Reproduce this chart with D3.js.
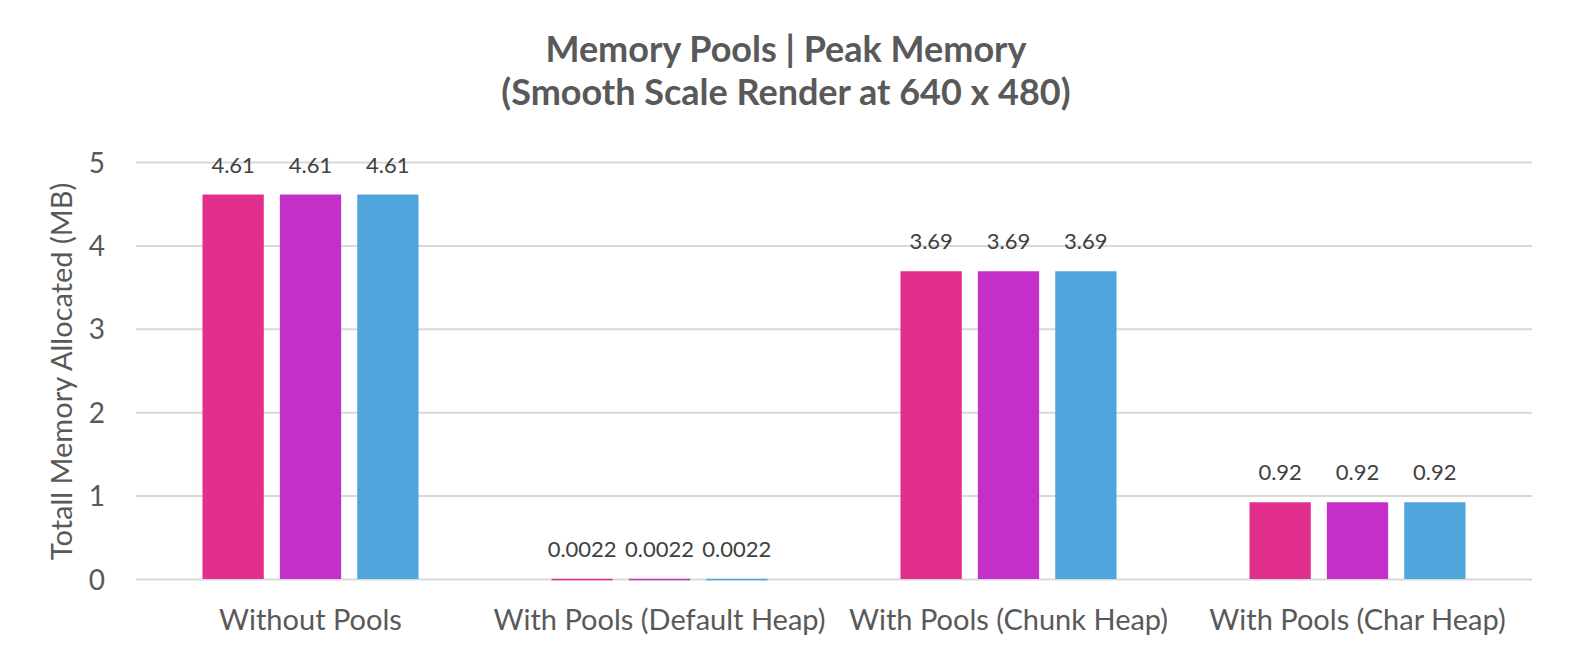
<!DOCTYPE html>
<html><head><meta charset="utf-8">
<script src="https://cdn.jsdelivr.net/npm/d3@7"></script>
<style>html,body{margin:0;padding:0;background:#fff;}svg{display:block;font-family:Lato,"Open Sans",sans-serif;}</style>
</head><body>
<svg id="chart" width="1572" height="660"></svg>
<script>
const categories = ["Without Pools", "With Pools (Default Heap)", "With Pools (Chunk Heap)", "With Pools (Char Heap)"];
const seriesNames = ["Run 1", "Run 2", "Run 3"];
const run1 = [4.61, 0.0022, 3.69, 0.92];
const run2 = [4.61, 0.0022, 3.69, 0.92];
const run3 = [4.61, 0.0022, 3.69, 0.92];
const labels1 = ["4.61", "0.0022", "3.69", "0.92"];
const labels2 = ["4.61", "0.0022", "3.69", "0.92"];
const labels3 = ["4.61", "0.0022", "3.69", "0.92"];
const yTicks = [0, 1, 2, 3, 4, 5];
const colors = ["#E22E8D", "#C52FC9", "#4FA5DC"];
const titleLines = ["Memory Pools | Peak Memory", "(Smooth Scale Render at 640 x 480)"];
const yTitle = "Totall Memory Allocated (MB)";

const seriesValues = [run1, run2, run3];
const seriesLabels = [labels1, labels2, labels3];

const svg = d3.select("#chart");
const pLeft = 136, pRight = 1532, pTop = 162, pBottom = 579;

const x = d3.scaleBand().domain(categories).range([pLeft, pRight]).paddingInner(0).paddingOuter(0);
const xs = d3.scaleBand().domain(seriesNames).range([66.5, x.bandwidth() - 66.5]).paddingInner(0.208).paddingOuter(0);
const y = d3.scaleLinear().domain([0, 5]).range([pBottom, pTop]);

// gridlines
const yAxis = d3.axisLeft(y).tickValues(yTicks).tickSize(-(pRight - pLeft)).tickFormat(d3.format("d")).tickPadding(31);
const gy = svg.append("g").attr("transform", `translate(${pLeft},0)`).call(yAxis);
gy.select(".domain").remove();
gy.selectAll(".tick line").attr("stroke", "#D9D9D9").attr("stroke-width", 2);
gy.selectAll(".tick text").attr("fill", "#595959").attr("font-size", 28).attr("font-family", "Lato").attr("dy", "0.36em");

// bars
const data = [];
categories.forEach((c, i) => seriesNames.forEach((s, j) => data.push({c, s, v: seriesValues[j][i], l: seriesLabels[j][i], j})));
const g = svg.append("g");
g.selectAll("rect").data(data).join("rect")
  .attr("x", d => x(d.c) + xs(d.s))
  .attr("width", xs.bandwidth())
  .attr("y", d => y(d.v))
  .attr("height", d => Math.max(1.5, y(0) - y(d.v)))
  .attr("fill", d => colors[d.j]);
g.selectAll("text").data(data).join("text")
  .attr("x", d => x(d.c) + xs(d.s) + xs.bandwidth() / 2)
  .attr("y", d => y(d.v) - 22)
  .attr("text-anchor", "middle")
  .attr("font-size", 22)
  .attr("fill", "#404040")
  .text(d => d.l);

// x axis labels
const xAxis = d3.axisBottom(x).tickSize(0).tickPadding(0);
const gx = svg.append("g").attr("transform", `translate(0,${pBottom})`).call(xAxis);
gx.select(".domain").remove();
gx.selectAll(".tick text").attr("fill", "#595959").attr("font-size", 29).attr("font-family", "Lato").attr("dy", 0).attr("y", 51);

// y title
svg.append("text")
  .attr("transform", `translate(72,${(pTop + pBottom) / 2 + 1}) rotate(-90)`)
  .attr("text-anchor", "middle")
  .attr("font-size", 29)
  .attr("fill", "#595959")
  .text(yTitle);

// title
svg.append("g").selectAll("text").data(titleLines).join("text")
  .attr("x", 786)
  .attr("y", (d, i) => 62 + i * 43)
  .attr("text-anchor", "middle")
  .attr("font-size", 36)
  .attr("font-weight", "bold")
  .attr("fill", "#595959")
  .text(d => d);
</script>
</body></html>
